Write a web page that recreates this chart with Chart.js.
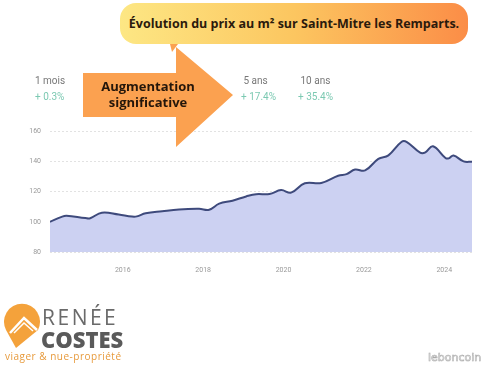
<!DOCTYPE html>
<html>
<head>
<meta charset="utf-8">
<script src="https://cdn.jsdelivr.net/npm/chart.js@4.4.0/dist/chart.umd.min.js"></script>
<style>
  body { margin: 0; width: 500px; height: 375px; background: #fff; position: relative; overflow: hidden; font-family: "Open Sans", sans-serif; }
  #wrap { position: absolute; left: 20px; top: 118px; width: 452px; height: 154px; }
  .bubble { position: absolute; left: 120px; top: 3px; width: 348px; height: 41px; border-radius: 16px;
    background: linear-gradient(90deg, #fde784 0%, #fcc660 50%, #fb8d47 100%);
    font-weight: 700; font-size: 12.5px; color: #2b1a0c; text-align: center; line-height: 41px; }
  .stat { position: absolute; font-family: Roboto, sans-serif; font-size: 10px; line-height: 16px; color: #777; }
  .stat b { display: block; font-weight: 400; color: #7cc9b2; }
  #arrow { position: absolute; left: 0; top: 0; }
  .atext { position: absolute; left: 98px; top: 78px; width: 100px; text-align: center; font-weight: 700; font-size: 13px; line-height: 16px; color: #24160a; }
  .logo1 { position: absolute; left: 42px; top: 303px; font-family: "Open Sans", sans-serif; font-size: 21px; color: #6a6a6a; letter-spacing: 2.5px; }
  .logo2 { position: absolute; left: 41px; top: 324px; font-family: "Open Sans", sans-serif; font-weight: 800; font-size: 22px; color: #5a5a5a; }
  .logo3 { position: absolute; left: 5px; top: 349px; font-size: 10px; color: #e79a3c; letter-spacing: 0.5px; }
  .lbc { position: absolute; left: 428px; top: 351px; font-family: "DejaVu Sans", sans-serif; font-size: 11px; color: #fff; -webkit-text-stroke: 0.6px #aaa; }
</style>
</head>
<body>
<div class="bubble">Évolution du prix au m² sur Saint-Mitre les Remparts.</div>
<div id="wrap"><canvas id="c"></canvas></div>
<svg id="arrow" width="500" height="375">
  <polygon points="170,44 178,44 172,52" fill="#fba150"/>
  <polygon points="83,73 176,73 176,47 233,95 176,147 176,117 83,117" fill="#fba150"/>
  <path d="M16,348 L6,330 A18,18 0 1 1 38,330 Z" fill="#f4a23b"/>
  <path d="M10,333 L24,318 L37,330" fill="none" stroke="#fff" stroke-width="2.5"/>
  <path d="M14,333 L24,323 L33,331" fill="none" stroke="#fff" stroke-width="1.5"/>
</svg>
<div class="atext">Augmentation<br>significative</div>
<div class="stat" style="left:35px;top:73px">1 mois<b>+ 0.3%</b></div>
<div class="stat" style="left:241px;top:73px">&nbsp;5 ans<b>+ 17.4%</b></div>
<div class="stat" style="left:298px;top:73px">&nbsp;10 ans<b>+ 35.4%</b></div>
<div class="logo1">RENÉE</div>
<div class="logo2">COSTES</div>
<div class="logo3">viager &amp; nue-propriété</div>
<div class="lbc">leboncoin</div>
<script>
// prix au m2, indice base 100
var years = [2014.19, 2014.48, 2014.6, 2015.07, 2015.19, 2015.48, 2015.9, 2016.23, 2016.35, 2016.57,
  2016.98, 2017.4, 2017.9, 2018.15, 2018.4, 2018.73, 2019.07, 2019.32, 2019.65, 2019.94,
  2020.19, 2020.53, 2020.94, 2021.36, 2021.57, 2021.78, 2022.03, 2022.36, 2022.61, 2022.94,
  2023.07, 2023.4, 2023.53, 2023.72, 2024.03, 2024.11, 2024.23, 2024.48, 2024.69];
var indexValues = [100, 103.3, 104, 102.5, 102.4, 106, 104.8, 103.5, 103.6, 105.6,
  107, 108.2, 108.6, 108, 112, 114, 116.8, 118.3, 118.4, 121,
  119.3, 125.5, 125.7, 130.5, 131.6, 134.6, 134, 141.7, 144, 153,
  152.8, 145.8, 146, 150, 142.3, 142, 143.9, 140, 139.8];
var xTicks = [2016, 2018, 2020, 2022, 2024];
var yTicks = [80, 100, 120, 140, 160];

var pts = years.map(function (y, i) { return { x: y, y: indexValues[i] }; });

new Chart(document.getElementById("c"), {
  type: "line",
  data: {
    datasets: [{
      data: pts,
      borderColor: "#3e4a7c",
      borderWidth: 2,
      backgroundColor: "rgba(204,209,242,1)",
      fill: "start",
      tension: 0.4,
      pointRadius: 0
    }]
  },
  options: {
    responsive: true,
    maintainAspectRatio: false,
    animation: false,
    layout: { padding: { top: 5, right: 0, left: 0, bottom: 0 } },
    plugins: { legend: { display: false }, tooltip: { enabled: false } },
    scales: {
      x: {
        type: "linear",
        min: 2014.19,
        max: 2024.69,
        afterBuildTicks: function (s) { s.ticks = xTicks.map(function (v) { return { value: v }; }); },
        afterFit: function (s) { s.height = 20; },
        grid: { display: false },
        border: { display: false },
        ticks: { color: "#999", font: { family: "Roboto", size: 7 }, padding: 6, maxRotation: 0,
          callback: function (v) { return String(v); } }
      },
      y: {
        min: 80,
        max: 160,
        afterBuildTicks: function (s) { s.ticks = yTicks.map(function (v) { return { value: v }; }); },
        afterFit: function (s) { s.width = 30; },
        grid: { color: "#e2e2e2", lineWidth: 1, drawTicks: false },
        border: { display: false, dash: [2, 2] },
        ticks: { color: "#999", font: { family: "Roboto", size: 7 }, padding: 9 }
      }
    }
  }
});
</script>
</body>
</html>
